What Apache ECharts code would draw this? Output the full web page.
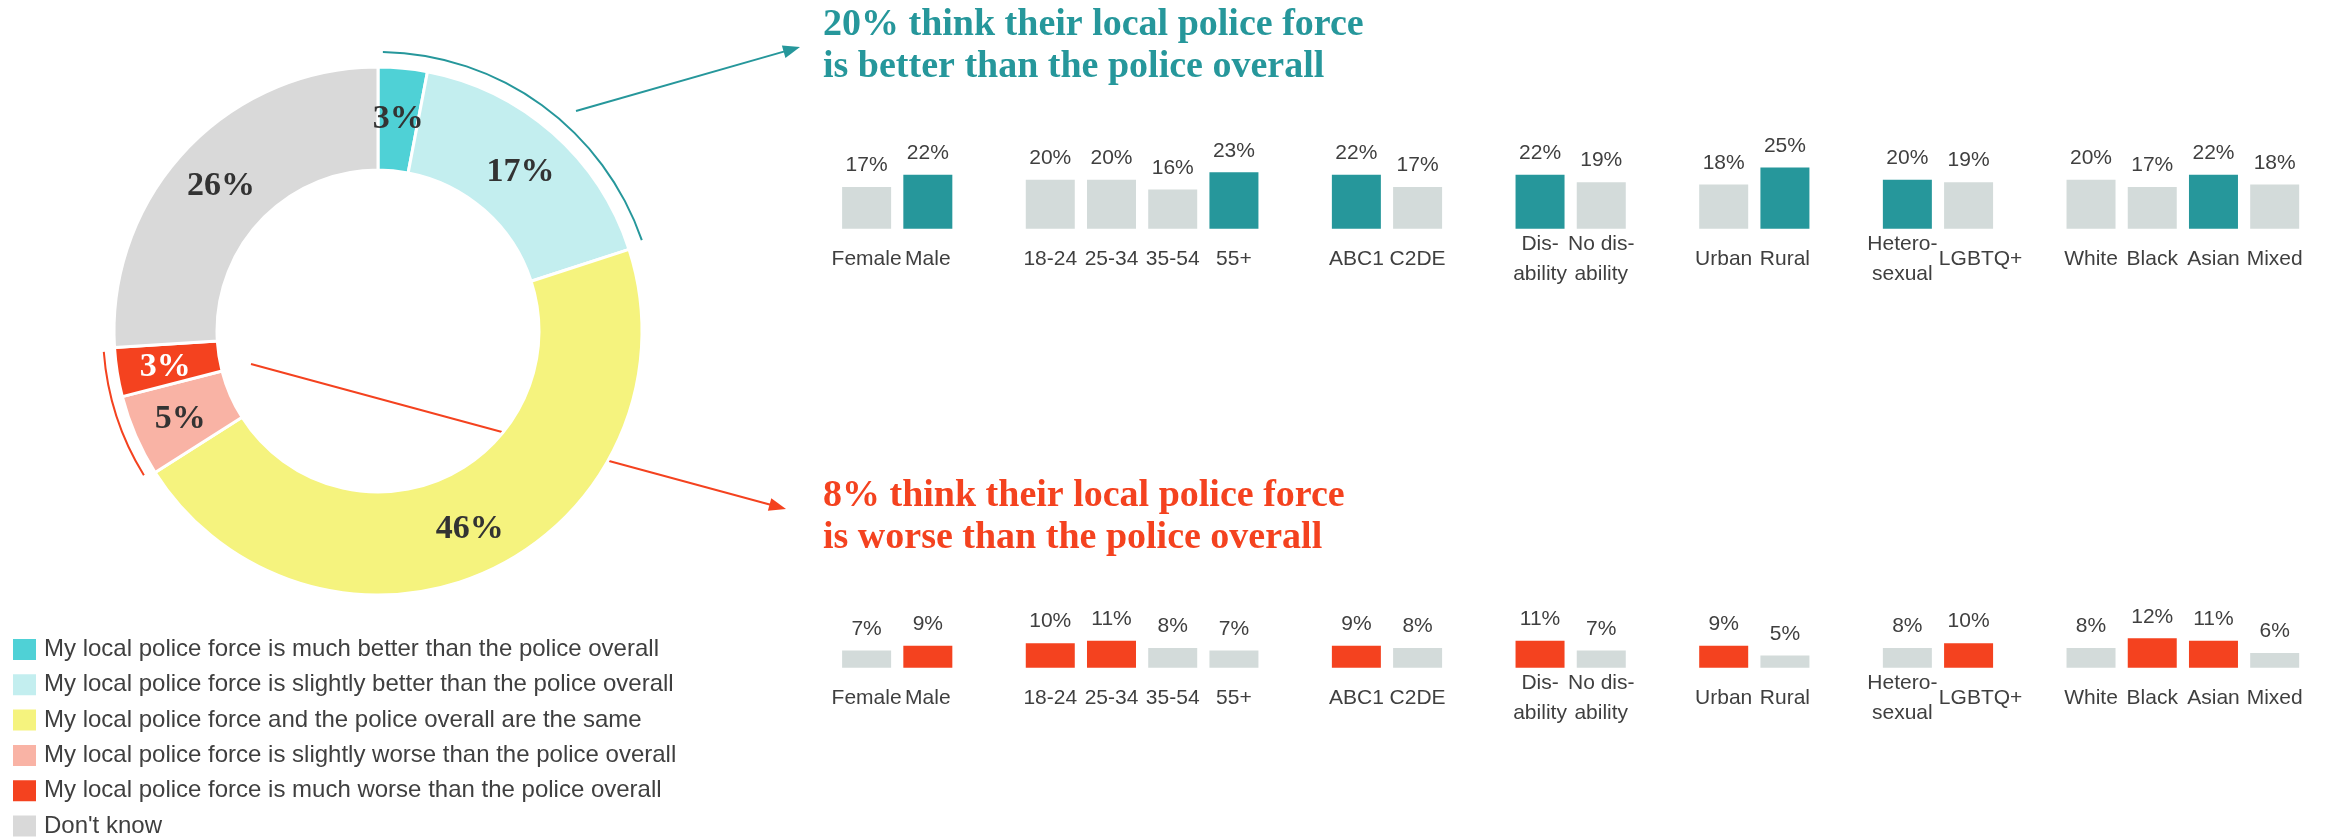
<!DOCTYPE html>
<html>
<head>
<meta charset="utf-8">
<script src="https://cdn.jsdelivr.net/npm/echarts@6/dist/echarts.min.js"></script>
<style>
  html, body { margin: 0; padding: 0; background: #ffffff; }
  #chart { width: 2335px; height: 837px; }
</style>
</head>
<body>
<div id="chart"></div>
<script>
// Overall: how does your local police force compare with the police overall? (%)
const answerNames = [
  'My local police force is much better than the police overall',
  'My local police force is slightly better than the police overall',
  'My local police force and the police overall are the same',
  'My local police force is slightly worse than the police overall',
  'My local police force is much worse than the police overall',
  "Don't know"
];
const answerValues = [3, 17, 46, 5, 3, 26];
const answerColors = ['#4fd1d6', '#c3eeef', '#f5f37e', '#f9b3a5', '#f4421f', '#d9d9d9'];

// Subgroups, laid out in clusters along one category axis
const groupLabels = [
  ['Female', 'Male'],
  ['18-24', '25-34', '35-54', '55+'],
  ['ABC1', 'C2DE'],
  ['Dis-\nability', 'No dis-\nability'],
  ['Urban', 'Rural'],
  ['Hetero-\nsexual', 'LGBTQ+'],
  ['White', 'Black', 'Asian', 'Mixed']
];

// % saying local force is better, and whether the subgroup stands out
const betterValues      = [17, 22, 20, 20, 16, 23, 22, 17, 22, 19, 18, 25, 20, 19, 20, 17, 22, 18];
const betterSignificant = [0, 1, 0, 0, 0, 1, 1, 0, 1, 0, 0, 1, 1, 0, 0, 0, 1, 0];

// % saying local force is worse, and whether the subgroup stands out
const worseValues      = [7, 9, 10, 11, 8, 7, 9, 8, 11, 7, 9, 5, 8, 10, 8, 12, 11, 6];
const worseSignificant = [0, 1, 1, 1, 0, 0, 1, 0, 1, 0, 1, 0, 0, 1, 0, 1, 1, 0];

const TEAL = '#26979b';
const RED = '#f4421f';
const GRAY = '#d3dbda';
const TEXT = '#3f3f3f';

// horizontal nudges (px) for labels that would otherwise collide
const labelShift = { 'Hetero-\nsexual': -5, 'LGBTQ+': 12 };

const betterShare = answerValues[0] + answerValues[1];
const worseShare = answerValues[3] + answerValues[4];

const axisLabelStyle = {
  interval: 0,
  fontFamily: 'Liberation Sans',
  fontSize: 21,
  lineHeight: 30,
  color: TEXT,
  margin: 31,
  verticalAlign: 'middle'
};

// category list with an empty slot between clusters
const categories = [];
const slotIndex = [];
groupLabels.forEach((group, gi) => {
  if (gi > 0) categories.push('');
  group.forEach(label => { slotIndex.push(categories.length); categories.push(label); });
});

const axisCategories = categories.map(label => {
  const s = labelShift[label];
  if (!s) return label;
  return {
    value: label,
    textStyle: {
      fontFamily: 'Liberation Sans',
      fontSize: 21,
      lineHeight: 30,
      color: TEXT,
      verticalAlign: 'middle',
      padding: s > 0 ? [0, 0, 0, 2 * s] : [0, -2 * s, 0, 0]
    }
  };
});

function barData(values, flags, color) {
  const out = categories.map(() => '-');
  values.forEach((v, i) => {
    out[slotIndex[i]] = { value: v, itemStyle: { color: flags[i] ? color : GRAY } };
  });
  return out;
}

const PIE_CENTER = [378, 331];
const PIE_RADIUS = [161, 264];

function arrow(x1, y1, x2, y2, color) {
  const dx = x2 - x1, dy = y2 - y1, len = Math.hypot(dx, dy);
  const ux = dx / len, uy = dy / len;
  const head = 17, half = 6.5;
  const bx = x2 - ux * head, by = y2 - uy * head;
  return [
    { type: 'line', z: 0, silent: true, shape: { x1: x1, y1: y1, x2: bx + ux, y2: by + uy },
      style: { stroke: color, lineWidth: 2 } },
    { type: 'polygon', z: 0, silent: true,
      shape: { points: [[x2, y2], [bx - uy * half, by + ux * half], [bx + uy * half, by - ux * half]] },
      style: { fill: color } }
  ];
}

const titleStyle = {
  fontFamily: 'Liberation Serif',
  fontWeight: 'bold',
  fontSize: 38,
  lineHeight: 42
};

const valueLabel = {
  show: true,
  position: 'top',
  distance: 11,
  formatter: '{c}%',
  fontFamily: 'Liberation Sans',
  fontSize: 21,
  color: TEXT
};

function gridAt(top) {
  return { left: 836, width: 1469.3, top: top, height: 73.5, outerBoundsMode: 'none' };
}

const chart = echarts.init(document.getElementById('chart'), null, { renderer: 'canvas' });

chart.setOption({
  backgroundColor: '#ffffff',
  animation: false,
  title: [
    { left: 823, top: 4, padding: 0,
      text: betterShare + '% think their local police force\nis better than the police overall',
      textStyle: Object.assign({ color: TEAL }, titleStyle) },
    { left: 823, top: 475, padding: 0,
      text: worseShare + '% think their local police force\nis worse than the police overall',
      textStyle: Object.assign({ color: RED }, titleStyle) }
  ],
  legend: {
    orient: 'vertical',
    left: 11,
    top: 637,
    height: 240,
    padding: 0,
    icon: 'rect',
    itemWidth: 25,
    itemHeight: 23,
    itemGap: 10.3,
    selectedMode: false,
    data: answerNames,
    textStyle: { fontFamily: 'Liberation Sans', fontSize: 24, lineHeight: 24, color: TEXT, padding: [0, 0, 0, 2] }
  },
  graphic: [].concat(
    arrow(576, 111, 800, 47, TEAL),
    arrow(251, 364, 786, 509, RED)
  ),
  grid: [gridAt(155.2), gridAt(594.2)],
  xAxis: [0, 1].map(i => ({
    type: 'category',
    gridIndex: i,
    data: axisCategories,
    axisLine: { show: false },
    axisTick: { show: false },
    splitLine: { show: false },
    axisLabel: axisLabelStyle
  })),
  yAxis: [0, 1].map(i => ({
    type: 'value',
    gridIndex: i,
    min: 0,
    max: 30,
    show: false
  })),
  series: [
    {
      type: 'pie',
      z: 10,
      silent: true,
      center: PIE_CENTER,
      radius: PIE_RADIUS,
      startAngle: 90,
      clockwise: true,
      avoidLabelOverlap: false,
      itemStyle: { borderColor: '#ffffff', borderWidth: 3 },
      label: {
        show: true,
        position: 'inside',
        formatter: '{c}%',
        fontFamily: 'Liberation Serif',
        fontWeight: 'bold',
        fontSize: 34,
        color: '#333333',
        offset: [0, 3]
      },
      labelLine: { show: false },
      emphasis: { disabled: true },
      data: answerNames.map((name, i) => ({
        name: name,
        value: answerValues[i],
        itemStyle: { color: answerColors[i] },
        label: i === 4 ? { color: '#ffffff' } : undefined
      }))
    },
    {
      // thin arc marking the "better" answers
      type: 'pie',
      z: 10,
      silent: true,
      center: PIE_CENTER,
      radius: [278, 280],
      startAngle: 90,
      clockwise: true,
      padAngle: 2,
      label: { show: false },
      labelLine: { show: false },
      emphasis: { disabled: true },
      data: [
        { name: 'better arc', value: betterShare, itemStyle: { color: TEAL } },
        { name: 'better arc rest', value: 100 - betterShare, itemStyle: { color: 'rgba(0,0,0,0)' } }
      ]
    },
    {
      // thin arc marking the "worse" answers
      type: 'pie',
      z: 10,
      silent: true,
      center: PIE_CENTER,
      radius: [274, 276],
      startAngle: 90,
      clockwise: true,
      padAngle: 1.5,
      label: { show: false },
      labelLine: { show: false },
      emphasis: { disabled: true },
      data: [
        { name: 'worse arc before', value: answerValues[0] + answerValues[1] + answerValues[2], itemStyle: { color: 'rgba(0,0,0,0)' } },
        { name: 'worse arc', value: worseShare, itemStyle: { color: RED } },
        { name: 'worse arc after', value: answerValues[5], itemStyle: { color: 'rgba(0,0,0,0)' } }
      ]
    },
    {
      type: 'bar',
      xAxisIndex: 0,
      yAxisIndex: 0,
      barWidth: 49,
      silent: true,
      label: valueLabel,
      data: barData(betterValues, betterSignificant, TEAL)
    },
    {
      type: 'bar',
      xAxisIndex: 1,
      yAxisIndex: 1,
      barWidth: 49,
      silent: true,
      label: valueLabel,
      data: barData(worseValues, worseSignificant, RED)
    }
  ]
});
</script>
</body>
</html>
